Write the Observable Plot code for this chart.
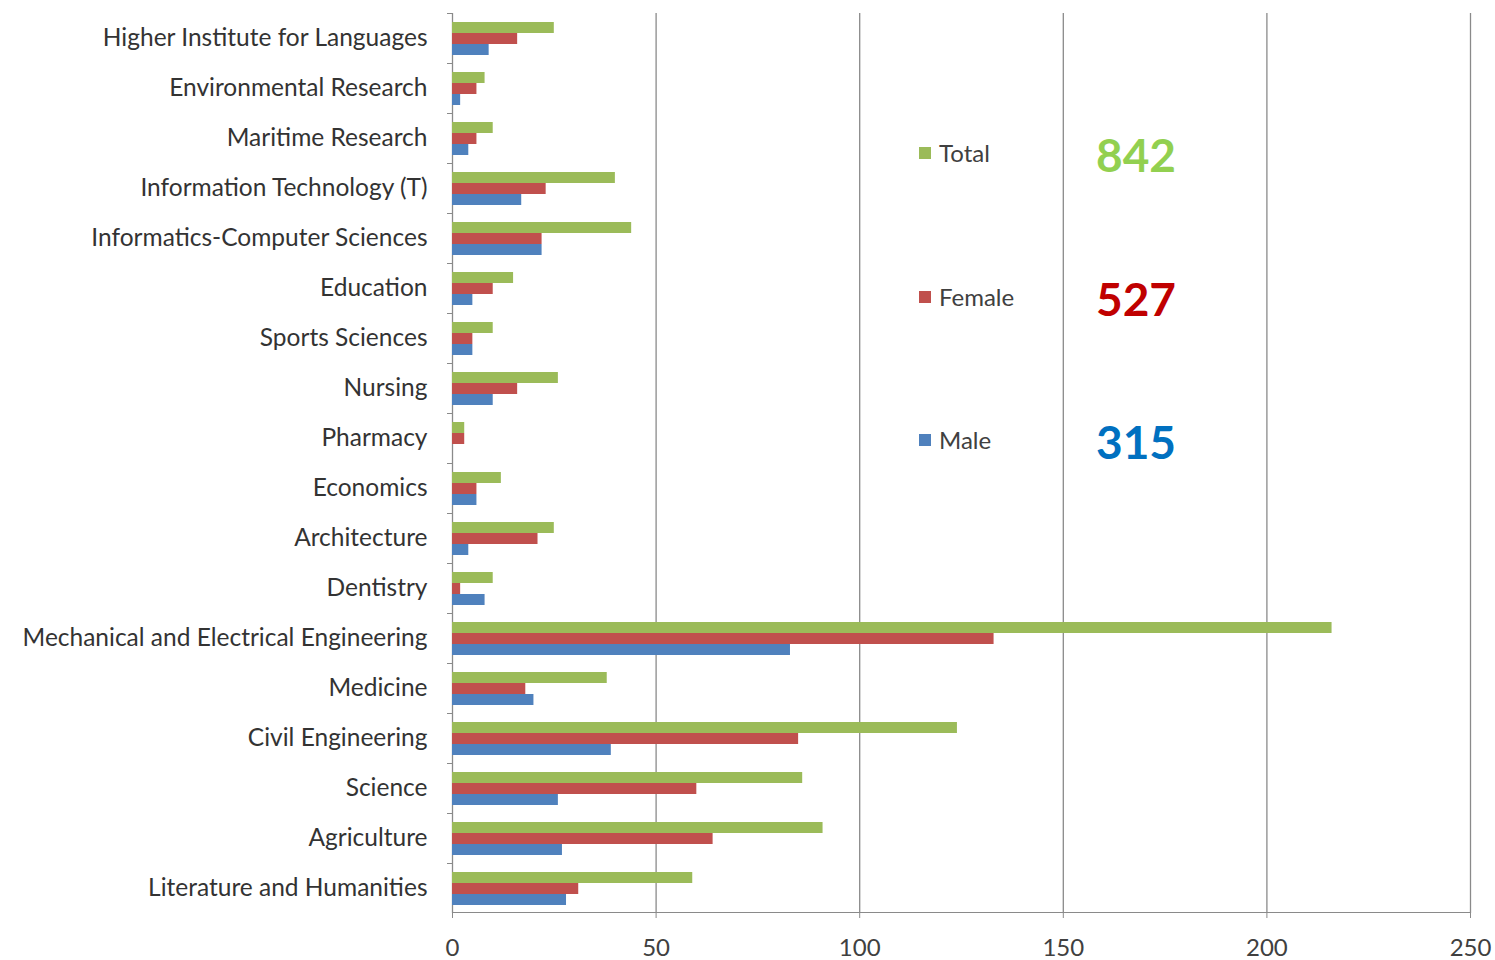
<!DOCTYPE html>
<html>
<head>
<meta charset="utf-8">
<script src="https://cdn.jsdelivr.net/npm/d3@7"></script>
<script src="https://cdn.jsdelivr.net/npm/@observablehq/plot@0.6"></script>
<style>
  html, body { margin: 0; padding: 0; background: #fff; }
  #wrap { position: relative; width: 1495px; height: 960px; font-family: Lato, "Open Sans", sans-serif; }
  #chart svg { display: block; }
  .leg { position: absolute; transform: translateY(-50%); display: flex; align-items: center; font-size: 24px; color: #404040; line-height: 1; }
  .leg .sw { width: 12px; height: 12px; margin-right: 8px; }
  .val { position: absolute; transform: translateY(-50%); font-size: 46px; font-weight: 700; line-height: 1; }
</style>
</head>
<body>
<div id="wrap">
  <div id="chart"></div>
</div>
<script>
const categories = ["Higher Institute for Languages","Environmental Research","Maritime Research","Information Technology (T)","Informatics-Computer Sciences","Education","Sports Sciences","Nursing","Pharmacy","Economics","Architecture","Dentistry","Mechanical and Electrical Engineering","Medicine","Civil Engineering","Science","Agriculture","Literature and Humanities"];
const total  = [25, 8, 10, 40, 44, 15, 10, 26, 3, 12, 25, 10, 216, 38, 124, 86, 91, 59];
const female = [16, 6, 6, 23, 22, 10, 5, 16, 3, 6, 21, 2, 133, 18, 85, 60, 64, 31];
const male   = [9, 2, 4, 17, 22, 5, 5, 10, 0, 6, 4, 8, 83, 20, 39, 26, 27, 28];
const series = ["Total", "Female", "Male"];
const barColors = ["#9bbb59", "#c0504d", "#4f81bd"];
const valueColors = ["#92d050", "#c00000", "#0070c0"];
const xTicks = [0, 50, 100, 150, 200, 250];

const seriesValues = {Total: total, Female: female, Male: male};
const rows = categories.flatMap((c, i) => series.map(s => ({category: c, series: s, value: seriesValues[s][i]})));

const chart = Plot.plot({
  width: 1495,
  height: 960,
  marginLeft: 452,
  marginRight: 25,
  marginTop: 13,
  marginBottom: 47,
  style: {fontFamily: "Lato, 'Open Sans', sans-serif", background: "#fff"},
  x: {domain: [0, 250]},
  y: {domain: series, paddingInner: 0, paddingOuter: 0.75, axis: null},
  fy: {domain: categories, padding: 0, axis: null},
  color: {domain: series, range: barColors},
  marks: [
    Plot.gridX(xTicks, {stroke: "#8a8a8a", strokeOpacity: 1, strokeWidth: 1.3}),
    Plot.barX(rows, {fy: "category", y: "series", x: "value", fill: "series"}),
    Plot.frame({anchor: "top", insetLeft: -5, insetRight: 1018, stroke: "#8a8a8a"}),
    Plot.barX([categories[categories.length - 1]], {fy: d => d, x1: 0, x2: 250, insetTop: 49, fill: "#8a8a8a"}),
    Plot.axisFy({anchor: "left", tickSize: 0, tickPadding: 25, fontSize: 24.5, label: null, fill: "#333"}),
    Plot.axisX(xTicks, {anchor: "bottom", tickSize: 5, tickPadding: 20, fontSize: 24, label: null, fill: "#404040", stroke: "#8a8a8a"})
  ]
});
document.getElementById("chart").appendChild(chart);

// Legend with totals
const wrap = document.getElementById("wrap");
const legendY = [153, 297, 440];
const sums = [d3.sum(total), d3.sum(female), d3.sum(male)];
series.forEach((s, i) => {
  const leg = document.createElement("div");
  leg.className = "leg";
  leg.style.left = "919px";
  leg.style.top = legendY[i] + "px";
  leg.innerHTML = `<span class="sw" style="background:${barColors[i]}"></span><span>${s}</span>`;
  wrap.appendChild(leg);
  const v = document.createElement("div");
  v.className = "val";
  v.style.left = "1096px";
  v.style.top = (legendY[i] + 2) + "px";
  v.style.color = valueColors[i];
  v.textContent = sums[i];
  wrap.appendChild(v);
});
</script>
</body>
</html>
